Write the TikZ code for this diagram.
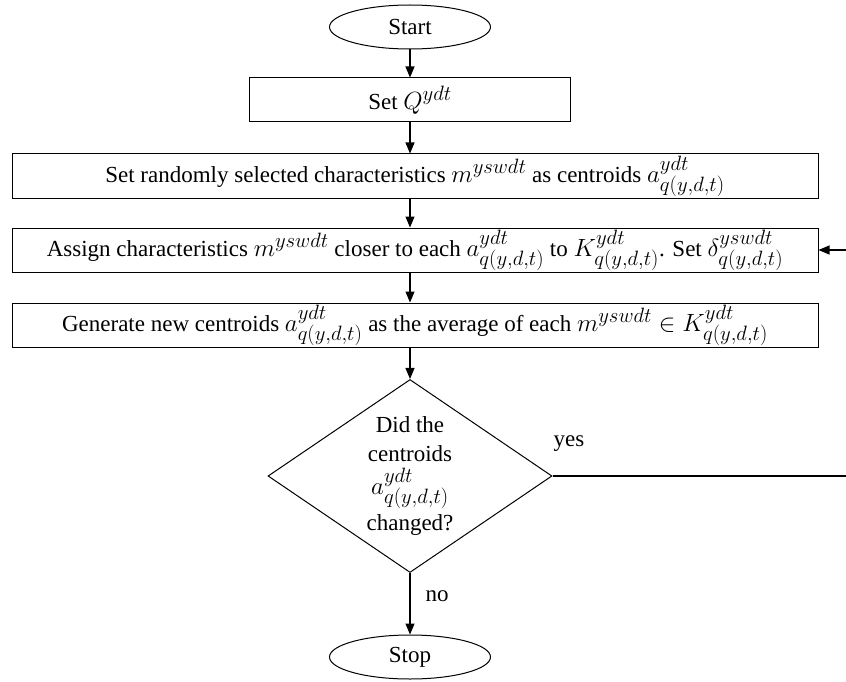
\documentclass[tikz,border=0pt]{standalone}
\usepackage{fontspec}
\setmainfont{Liberation Serif}
\usetikzlibrary{shapes.geometric,arrows.meta}
\DeclareMathSizes{23}{24}{19.5}{15}
\begin{document}
\begin{tikzpicture}[x=1pt,y=-1pt,
  every node/.style={font=\fontsize{23}{29}\selectfont},
  term/.style={ellipse,draw,line width=1pt,minimum width=161pt,minimum height=44pt,inner sep=0pt},
  proc/.style={rectangle,draw,line width=1pt,minimum height=44pt,inner sep=0pt},
  decide/.style={diamond,draw,line width=1pt,minimum width=284pt,minimum height=193pt,inner sep=0pt,align=center,aspect=1.47},
  flow/.style={line width=1.2pt,-{Triangle[length=11pt,width=9pt]}},
  plain/.style={line width=1.2pt}]
\useasboundingbox (0,0) rectangle (846,682);

% boxes of the flow
\node[term] (start) at (410,27) {Start};
\node[proc,minimum width=321pt] (setq) at (410,100) {Set $Q^{ydt}$};
\node[proc,minimum width=806pt] (rand) at (415,176)
  {Set randomly selected characteristics $m^{yswdt}$ as centroids $a^{ydt}_{q(y,d,t)}$};
\node[proc,minimum width=806pt] (assign) at (415,250)
  {Assign characteristics $m^{yswdt}$ closer to each $a^{ydt}_{q(y,d,t)}$ to $K^{ydt}_{q(y,d,t)}$. Set $\delta^{yswdt}_{q(y,d,t)}$};
\node[proc,minimum width=806pt] (gen) at (415,325)
  {Generate new centroids $a^{ydt}_{q(y,d,t)}$ as the average of each $m^{yswdt}\in K^{ydt}_{q(y,d,t)}$};
\node[decide] (dec) at (410,476) {Did the\\centroids\\[4pt]$a^{ydt}_{q(y,d,t)}$\\[5pt]changed?};
\node[term] (stop) at (410,657) {Stop};

% loop-back ends at the right margin
\coordinate (back) at (846,250);
\coordinate (east) at (dec.east -| back);

% connectors
\draw[flow] (start) -- (setq);
\draw[flow] (setq) -- (setq |- rand.north);
\draw[flow] (rand.south -| setq) -- (setq |- assign.north);
\draw[flow] (assign.south -| setq) -- (setq |- gen.north);
\draw[flow] (gen.south -| setq) -- (dec);
\draw[flow] (dec) -- (stop);
\draw[plain] (dec.east) -- (east);
\draw[flow] (back) -- (assign.east);

% branch labels
\node (yes) at (569,444) {yes};
\node (no) at (437,596) {no};
\end{tikzpicture}
\end{document}
